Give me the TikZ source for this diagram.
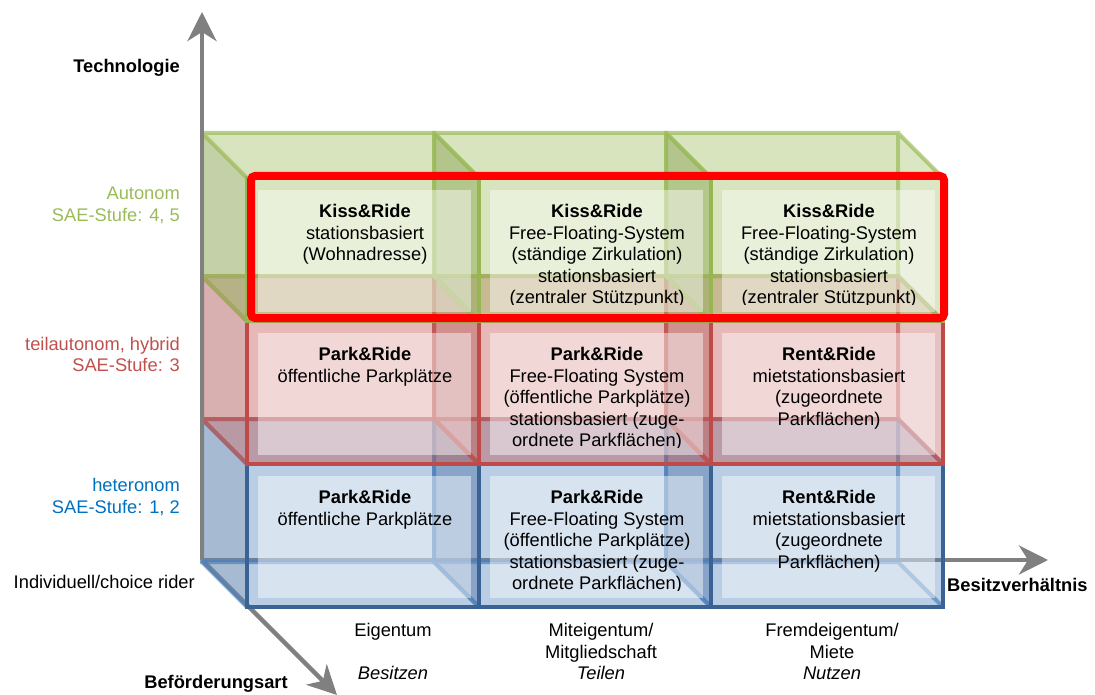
\documentclass[tikz,border=0pt]{standalone}
\usepackage{fontspec}
\setmainfont{Liberation Sans}
\usetikzlibrary{arrows.meta}

% accent colours (faces, shaded side faces, hidden edges, front frames, labels)
\definecolor{gface}{HTML}{9BBB59}
\definecolor{gside}{HTML}{93A866}
\definecolor{gline}{HTML}{9BBB59}
\definecolor{gfront}{HTML}{96B654}
\definecolor{gtext}{HTML}{9BBB59}
\definecolor{rface}{HTML}{C0504D}
\definecolor{rside}{HTML}{B87C7C}
\definecolor{rline}{HTML}{C0504D}
\definecolor{rfront}{HTML}{BE4B48}
\definecolor{rtext}{HTML}{C0504D}
\definecolor{bface}{HTML}{4F81BD}
\definecolor{bside}{HTML}{6686AC}
\definecolor{bline}{HTML}{4F81BD}
\definecolor{bfront}{HTML}{3A6394}
\definecolor{btext}{HTML}{0070C0}
\definecolor{axisgray}{HTML}{808080}
\definecolor{hired}{HTML}{FF0000}

\newcommand\dgfont{\fontsize{18.3}{21.5}\selectfont}

\tikzset{
  axisarrow/.style={draw=axisgray, line width=4.5pt,
    -{Stealth[length=29pt,width=29pt,inset=9pt]}},
  backedge/.style={draw=#1, line width=4pt, draw opacity=.7},
  frontedge/.style={draw=#1, line width=4.5pt},
  celltext/.style={anchor=north, align=center, inner sep=0pt, font=\dgfont},
  lbl/.style={inner sep=0pt, font=\dgfont},
  highlight/.style={draw=hired, line width=8pt, rounded corners=4pt},
}

% hidden part of a translucent cube: front top-left corner (x,y), colour prefix
\newcommand\cubeback[3]{%
  \begin{scope}[shift={(#1,#2)}]
    \fill[#3face, fill opacity=.2] (-45,-45) rectangle (187,98);
    \fill[#3face, fill opacity=.25] (-45,-45) -- (187,-45) -- (232,0) -- (0,0) -- cycle;
    \fill[#3face, fill opacity=.2] (-45,98) -- (187,98) -- (232,143) -- (0,143) -- cycle;
    \fill[#3side, fill opacity=.45] (-45,-45) -- (0,0) -- (0,143) -- (-45,98) -- cycle;
    \fill[#3face, fill opacity=.15] (187,-45) -- (232,0) -- (232,143) -- (187,98) -- cycle;
    \draw[backedge=#3line] (-45,-45) rectangle (187,98)
      (-45,-45) -- (0,0) (187,-45) -- (232,0) (187,98) -- (232,143) (-45,98) -- (0,143);
  \end{scope}}

% front face of a cube with its text: (x,y), colour prefix, node name, text
\newcommand\cubefront[5]{%
  \begin{scope}[shift={(#1,#2)}]
    \fill[#3face, fill opacity=.25] (0,0) rectangle (232,143);
    \fill[white, fill opacity=.45] (11,12) rectangle (224,134);
    \draw[frontedge=#3front] (0,0) rectangle (232,143);
    \begin{scope}
      \clip (8,8) rectangle (226,126.5);
      \node[celltext] (#4) at (118,24.45) {\strut #5};
    \end{scope}
  \end{scope}}

\begin{document}
\begin{tikzpicture}[x=1pt,y=-1pt]
  \useasboundingbox (0,0) rectangle (1095,695);

  % axes origin and tips
  \coordinate (O) at (202,560);
  \coordinate (ytip) at (202,12);
  \coordinate (xtip) at (1048,560);
  \coordinate (ztip) at (337,695);

  \draw[axisarrow] (O) -- (xtip);
  \draw[axisarrow] (O) -- (ztip);

  % bottom layer: heteronom
  \cubeback{247}{464}{b}\cubeback{479}{464}{b}\cubeback{711}{464}{b}
  \cubefront{247}{464}{b}{b1}{\textbf{Park\&Ride}\\öffentliche Parkplätze}
  \cubefront{479}{464}{b}{b2}{\textbf{Park\&Ride}\\Free-Floating System\\(öffentliche Parkplätze)\\stationsbasiert (zuge-\\ordnete Parkflächen)}
  \cubefront{711}{464}{b}{b3}{\textbf{Rent\&Ride}\\mietstationsbasiert\\(zugeordnete\\Parkflächen)}

  % middle layer: teilautonom
  \cubeback{247}{321}{r}\cubeback{479}{321}{r}\cubeback{711}{321}{r}
  \cubefront{247}{321}{r}{r1}{\textbf{Park\&Ride}\\öffentliche Parkplätze}
  \cubefront{479}{321}{r}{r2}{\textbf{Park\&Ride}\\Free-Floating System\\(öffentliche Parkplätze)\\stationsbasiert (zuge-\\ordnete Parkflächen)}
  \cubefront{711}{321}{r}{r3}{\textbf{Rent\&Ride}\\mietstationsbasiert\\(zugeordnete\\Parkflächen)}

  % top layer: autonom
  \cubeback{247}{178}{g}\cubeback{479}{178}{g}\cubeback{711}{178}{g}
  \cubefront{247}{178}{g}{g1}{\textbf{Kiss\&Ride}\\stationsbasiert\\(Wohnadresse)}
  \cubefront{479}{178}{g}{g2}{\textbf{Kiss\&Ride}\\Free-Floating-System\\(ständige Zirkulation)\\stationsbasiert\\(zentraler Stützpunkt)}
  \cubefront{711}{178}{g}{g3}{\textbf{Kiss\&Ride}\\Free-Floating-System\\(ständige Zirkulation)\\stationsbasiert\\(zentraler Stützpunkt)}

  \draw[axisarrow] (O) -- (ytip);

  % highlighted row
  \draw[highlight] (251,176) rectangle (944,318);

  % axis titles
  \node[lbl, anchor=base east, font=\dgfont\bfseries] (tech) at (180,72.5) {Technologie};
  \node[lbl, anchor=base west, font=\dgfont\bfseries] (besitz) at (947,591) {Besitzverhältnis};
  \node[lbl, anchor=base, font=\dgfont\bfseries] (befoerd) at (216,688.5) {Beförderungsart};

  % technology levels
  \node[lbl, anchor=north east, align=right, text=gtext] (lvlg) at (180,184.45) {\strut Autonom\\SAE-Stufe: 4, 5};
  \node[lbl, anchor=north east, align=right, text=rtext] (lvlr) at (180,334.95) {\strut teilautonom, hybrid\\SAE-Stufe: 3};
  \node[lbl, anchor=north east, align=right, text=btext] (lvlb) at (180,476.45) {\strut heteronom\\SAE-Stufe: 1, 2};
  \node[lbl, anchor=base east] (rider) at (195,588.5) {Individuell/choice rider};

  % ownership columns
  \node[lbl, anchor=north, align=center] (own1) at (393,621.45) {\strut Eigentum\\\strut\\\textit{Besitzen}};
  \node[lbl, anchor=north, align=center] (own2) at (601,621.45) {\strut Miteigentum/\\Mitgliedschaft\\\textit{Teilen}};
  \node[lbl, anchor=north, align=center] (own3) at (832,621.45) {\strut Fremdeigentum/\\Miete\\\textit{Nutzen}};
\end{tikzpicture}
\end{document}
